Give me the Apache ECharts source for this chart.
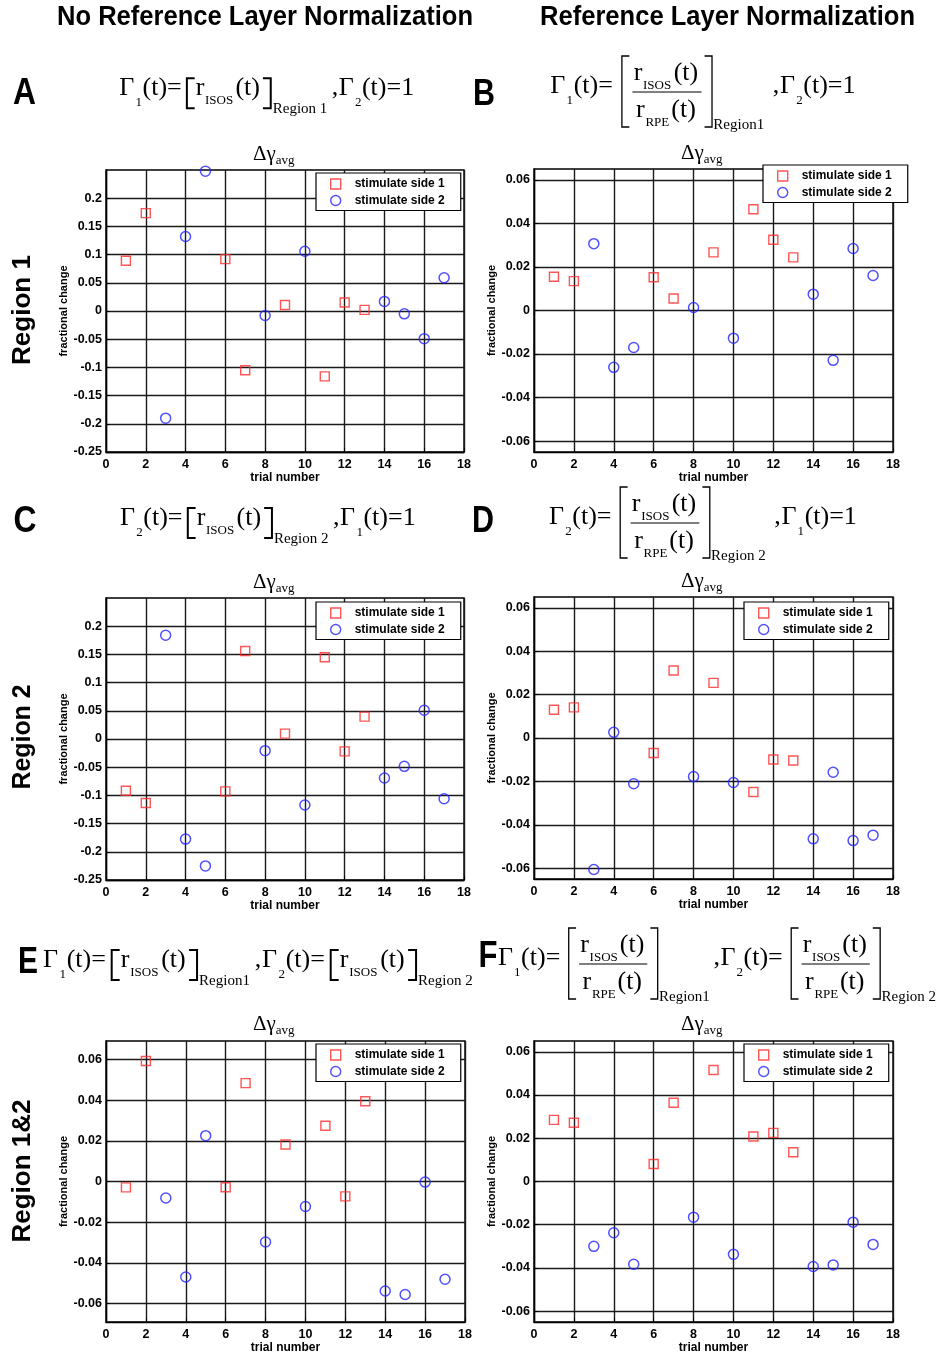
<!DOCTYPE html>
<html>
<head>
<meta charset="utf-8">
<title>Fractional change per trial</title>
<script src="https://cdn.jsdelivr.net/npm/echarts@6/dist/echarts.min.js"></script>
<style>
html, body { margin: 0; padding: 0; background: #fff; }
#chart { width: 946px; height: 1355px; }
</style>
</head>
<body>
<div id="chart"></div>
<script>
// trial numbers for each stimulation side
const side1Trials = [1, 2, 6, 7, 9, 11, 12, 13]
const side2Trials = [3, 4, 5, 8, 10, 14, 15, 16, 17]

// fractional change
const aSide1 = [0.089, 0.1735, 0.092, -0.105, 0.0106, -0.116, 0.015, 0.002]
const aSide2 = [-0.19, 0.132, 0.248, -0.008, 0.106, 0.017, -0.005, -0.049, 0.059]
const bSide1 = [0.0155, 0.0135, 0.0153, 0.0055, 0.0267, 0.0465, 0.0325, 0.0244]
const bSide2 = [0.0307, -0.0261, -0.017, 0.0014, -0.0127, 0.0075, -0.0229, 0.0285, 0.0161]
const cSide1 = [-0.0917, -0.1136, -0.0929, 0.156, 0.0095, 0.145, -0.0219, 0.0396]
const cSide2 = [0.184, -0.1775, -0.225, -0.0207, -0.117, -0.0692, -0.0485, 0.0509, -0.106]
const dSide1 = [0.013, 0.0141, -0.0069, 0.0311, 0.0254, -0.0249, -0.0099, -0.0104]
const dSide2 = [-0.0606, 0.0026, -0.0211, -0.0178, -0.0205, -0.0465, -0.0158, -0.0473, -0.0448]
const eSide1 = [-0.0029, 0.0592, -0.0028, 0.0483, 0.0182, 0.0274, -0.0073, 0.0394]
const eSide2 = [-0.0081, -0.0469, 0.0225, -0.0297, -0.0123, -0.0538, -0.0555, -0.0003, -0.048]
const fSide1 = [0.0285, 0.0272, 0.0081, 0.0364, 0.0516, 0.0208, 0.0225, 0.0135]
const fSide2 = [-0.030, -0.0237, -0.0383, -0.0165, -0.0337, -0.0393, -0.0386, -0.0188, -0.0291]

// tick values
const wideTicks = [-0.25, -0.2, -0.15, -0.1, -0.05, 0, 0.05, 0.1, 0.15, 0.2]
const narrowTicks = [-0.06, -0.04, -0.02, 0, 0.02, 0.04, 0.06]

const SANS = '"Liberation Sans", Arial, sans-serif'
const SERIF = '"Liberation Serif", "Times New Roman", serif'
const RED = '#ff2a2a'
const BLUE = '#2424ff'

const panels = [
  { s1: aSide1, s2: aSide2, yMin: -0.25, yMax: 0.25, ticks: wideTicks, box: [106, 170, 358, 282], leg: [316, 173], gap: 37 },
  { s1: bSide1, s2: bSide2, yMin: -0.065, yMax: 0.065, ticks: narrowTicks, box: [534, 169, 359, 283], leg: [763, 165], gap: 36 },
  { s1: cSide1, s2: cSide2, yMin: -0.25, yMax: 0.25, ticks: wideTicks, box: [106, 598, 358, 282], leg: [316, 602], gap: 37 },
  { s1: dSide1, s2: dSide2, yMin: -0.065, yMax: 0.065, ticks: narrowTicks, box: [534, 597, 359, 282], leg: [744, 602], gap: 36 },
  { s1: eSide1, s2: eSide2, yMin: -0.069, yMax: 0.069, ticks: narrowTicks, box: [106, 1041, 359, 282], leg: [316, 1044], gap: 37 },
  { s1: fSide1, s2: fSide2, yMin: -0.065, yMax: 0.065, ticks: narrowTicks, box: [534, 1041, 359, 281], leg: [744, 1044], gap: 36 }
]

// ---- text helpers for the math annotations ----
const measure = document.createElement('canvas').getContext('2d')
function textWidth (text, font) {
  measure.font = font
  return measure.measureText(text).width
}
function T (t, s, dy) { return { t: t, s: s, dy: dy || 0 } }
function BR (side, top, bot, w, lw) { return { br: side, top: top, bot: bot, w: w, lw: lw } }
function tokenWidth (tk) {
  if (tk.t !== undefined) return textWidth(tk.t, tk.s + 'px ' + SERIF)
  if (tk.br) return tk.w
  if (tk.gap) return tk.gap
  if (tk.num) return Math.max(rowWidth(tk.num), rowWidth(tk.den)) + 2 * tk.pad
  return 0
}
function rowWidth (tokens) { return tokens.reduce((a, tk) => a + tokenWidth(tk), 0) }
function drawRow (tokens, x0, y0, k, out) {
  let x = x0
  tokens.forEach(tk => {
    const w = tokenWidth(tk) * k
    if (tk.t !== undefined) {
      out.push({
        type: 'text', x: x, y: y0 + tk.dy - 0.34 * tk.s, silent: true,
        style: { text: tk.t, font: tk.s + 'px ' + SERIF, fill: '#000', align: 'left', verticalAlign: 'middle' }
      })
    } else if (tk.br) {
      const a = tk.br === '[' ? x + tk.lw : x + w - tk.lw
      const b = tk.br === '[' ? x + w - 1 : x + 1
      out.push({
        type: 'polyline', silent: true,
        shape: { points: [[b, y0 + tk.top], [a, y0 + tk.top], [a, y0 + tk.bot], [b, y0 + tk.bot]] },
        style: { stroke: '#000', lineWidth: tk.lw, fill: null }
      })
    } else if (tk.num) {
      out.push({
        type: 'line', silent: true,
        shape: { x1: x + 2, y1: y0 + tk.bar, x2: x + w - 2, y2: y0 + tk.bar },
        style: { stroke: '#000', lineWidth: 1 }
      })
      const nw = rowWidth(tk.num) * k
      const dw = rowWidth(tk.den) * k
      drawRow(tk.num, x + (w - nw) / 2, y0 + tk.numY, k, out)
      drawRow(tk.den, x + (w - dw) / 2, y0 + tk.denY, k, out)
    }
    x += w
  })
}
function formula (tokens, x0, y0, targetWidth) {
  const k = targetWidth ? targetWidth / rowWidth(tokens) : 1
  const out = []
  drawRow(tokens, x0, y0, k, out)
  return out
}
function plainHalf (g, region) {
  return [T('Γ', 26), T(g, 13, 10), T('(t)=', 26), BR('[', -19, 11, 10, 2),
    T('r', 26), T('ISOS', 13, 8), T('(t)', 26), BR(']', -19, 11, 10, 2), T(region, 15, 17)]
}
function fracHalf (g, region) {
  return [T('Γ', 26), T(g, 13, 10), T('(t)=', 26), { gap: 4 }, BR('[', -39, 32, 9, 1.3),
    {
      num: [T('r', 26), T('ISOS', 13, 8), T('(t)', 26)],
      den: [T('r', 26), T('RPE', 13, 8), T('(t)', 26)],
      pad: 3, bar: -3, numY: -13, denY: 24
    },
    BR(']', -39, 32, 9, 1.3), T(region, 15, 35)]
}
function tail (g) { return [T(',', 26), T('Γ', 26), T(g, 13, 10), T('(t)=1', 26)] }
function boldText (text, cx, cy, size, fitWidth, rotation) {
  const font = 'bold ' + size + 'px ' + SANS
  const sx = fitWidth ? fitWidth / textWidth(text, font) : 1
  return {
    type: 'text', x: cx, y: cy, rotation: rotation || 0, scaleX: sx, silent: true,
    style: { text: text, font: font, fill: '#000', align: 'center', verticalAlign: 'middle' }
  }
}
function deltaTitle (x0, y0) {
  return formula([T('Δγ', 21), T('avg', 13, 3)], x0, y0)
}

const graphics = [].concat(
  boldText('No Reference Layer Normalization', 265, 18, 27, 416),
  boldText('Reference Layer Normalization', 727.5, 18, 27, 375),
  boldText('A', 24.5, 94, 36, 23),
  boldText('B', 484, 95, 36, 22),
  boldText('C', 25, 522, 36, 23),
  boldText('D', 483, 522, 36, 22),
  boldText('E', 28, 963, 36, 20),
  boldText('F', 488, 957, 36, 19),
  boldText('Region 1', 23, 310, 25, 110, Math.PI / 2),
  boldText('Region 2', 23, 737, 25, 105, Math.PI / 2),
  boldText('Region 1&2', 23, 1171, 25, 143, Math.PI / 2),
  formula(plainHalf('1', 'Region 1').concat(tail('2')), 119.3, 97.3, 299),
  formula(fracHalf('1', 'Region1').concat([{ gap: 4 }], tail('2')), 550.3, 95, 309.7),
  formula(plainHalf('2', 'Region 2').concat(tail('1')), 120, 527, 300),
  formula(fracHalf('2', 'Region 2').concat([{ gap: 4 }], tail('1')), 549, 526, 312),
  formula(plainHalf('1', 'Region1').concat([T(',', 26)], plainHalf('2', 'Region 2')), 43, 969, 435),
  formula(fracHalf('1', 'Region1').concat([T(',', 26)], fracHalf('2', 'Region 2')), 498, 967, 442),
  deltaTitle(253, 161.5),
  deltaTitle(681, 161),
  deltaTitle(253, 590),
  deltaTitle(681, 589),
  deltaTitle(253, 1032),
  deltaTitle(681, 1032)
)

const fmt = v => String(Number(v.toFixed(4)))
const labelStyle = { color: '#000', fontWeight: 'bold', fontSize: 12.5, fontFamily: SANS }
const nameStyle = { color: '#000', fontWeight: 'bold', fontSize: 12, fontFamily: SANS }
const gridLine = { show: true, lineStyle: { color: '#1a1a1a', width: 1.4 } }

const myChart = echarts.init(document.getElementById('chart'), null, { renderer: 'canvas' })
const option = {
  animation: false,
  backgroundColor: '#fff',
  grid: panels.map(p => ({
    left: p.box[0],
    top: p.box[1],
    width: p.box[2],
    height: p.box[3],
    show: true,
    backgroundColor: 'transparent',
    borderColor: '#000',
    borderWidth: 1.4,
    containLabel: false
  })),
  xAxis: panels.map((p, i) => ({
    gridIndex: i,
    type: 'value',
    min: 0,
    max: 18,
    interval: 2,
    name: 'trial number',
    nameLocation: 'middle',
    nameGap: 20,
    nameTextStyle: nameStyle,
    axisLine: { show: true, onZero: false, lineStyle: { color: '#000', width: 1.4 } },
    axisTick: { show: true, inside: true, length: 4, lineStyle: { color: '#000' } },
    axisLabel: Object.assign({ margin: 6, formatter: fmt }, labelStyle),
    splitLine: gridLine
  })),
  yAxis: panels.map((p, i) => ({
    gridIndex: i,
    type: 'value',
    min: p.yMin,
    max: p.yMax,
    name: 'fractional change',
    nameLocation: 'middle',
    nameRotate: 90,
    nameGap: p.gap,
    nameTextStyle: Object.assign({}, nameStyle, { fontSize: 11 }),
    axisLine: { show: true, onZero: false, lineStyle: { color: '#000', width: 1.4 } },
    axisTick: { show: true, inside: true, length: 4, customValues: p.ticks, lineStyle: { color: '#000' } },
    axisLabel: Object.assign({ margin: 4, customValues: p.ticks, formatter: fmt }, labelStyle),
    splitLine: gridLine
  })),
  legend: panels.map(p => ({
    left: p.leg[0],
    top: p.leg[1],
    orient: 'vertical',
    backgroundColor: '#fff',
    borderColor: '#000',
    borderWidth: 1.2,
    borderRadius: 0,
    padding: [5, 16, 4, 14],
    itemGap: 4.5,
    itemWidth: 10,
    itemHeight: 10,
    selectedMode: false,
    itemStyle: { borderWidth: 1.4 },
    textStyle: { color: '#000', fontWeight: 'bold', fontSize: 12, fontFamily: SANS, padding: [0, 0, 0, 9] },
    data: [{ name: 'stimulate side 1', icon: 'rect' }, { name: 'stimulate side 2', icon: 'circle' }]
  })),
  series: panels.flatMap((p, i) => [
    {
      name: 'stimulate side 1',
      type: 'scatter',
      xAxisIndex: i,
      yAxisIndex: i,
      symbol: 'rect',
      symbolSize: 9,
      itemStyle: { color: 'rgba(0,0,0,0)', borderColor: RED, borderWidth: 1.4 },
      data: side1Trials.map((t, j) => [t, p.s1[j]])
    },
    {
      name: 'stimulate side 2',
      type: 'scatter',
      xAxisIndex: i,
      yAxisIndex: i,
      symbol: 'circle',
      symbolSize: 10,
      itemStyle: { color: 'rgba(0,0,0,0)', borderColor: BLUE, borderWidth: 1.5 },
      data: side2Trials.map((t, j) => [t, p.s2[j]])
    }
  ]),
  graphic: { elements: graphics }
}
myChart.setOption(option)
</script>
</body>
</html>
